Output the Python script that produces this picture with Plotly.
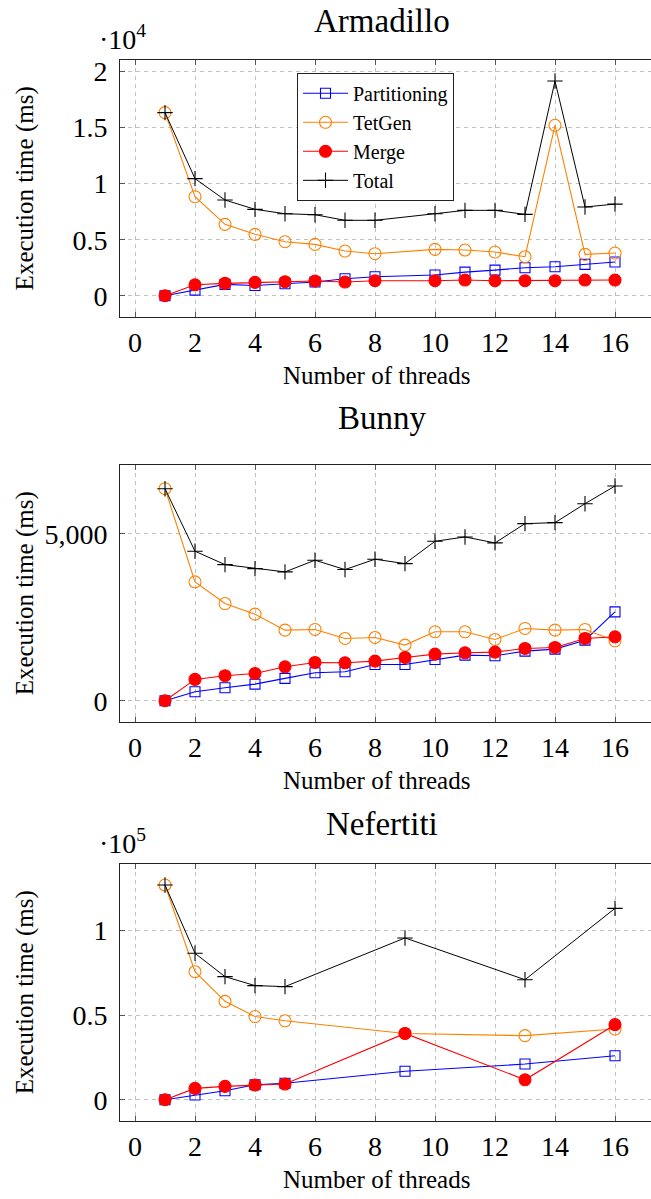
import plotly.graph_objects as go

# ---------------- data ----------------
arm_threads = [1, 2, 3, 4, 5, 6, 7, 8, 10, 11, 12, 13, 14, 15, 16]
arm_partitioning = [0, 500, 1010, 920, 1070, 1220, 1520, 1700, 1850, 2110, 2290, 2500, 2590, 2800, 3010]
arm_tetgen = [16340, 8840, 6370, 5480, 4820, 4580, 3990, 3750, 4140, 4080, 3900, 3480, 15210, 3690, 3810]
arm_merge = [0, 980, 1100, 1190, 1250, 1310, 1220, 1340, 1340, 1400, 1340, 1340, 1340, 1400, 1400]
arm_total = [16340, 10450, 8540, 7710, 7320, 7230, 6730, 6730, 7320, 7620, 7620, 7260, 19160, 7920, 8180]

bun_threads = [1, 2, 3, 4, 5, 6, 7, 8, 9, 10, 11, 12, 13, 14, 15, 16]
bun_partitioning = [0, 269, 389, 499, 669, 838, 868, 1088, 1088, 1238, 1367, 1347, 1487, 1547, 1816, 2665]
bun_tetgen = [6357, 3563, 2914, 2595, 2116, 2136, 1866, 1896, 1667, 2066, 2066, 1836, 2166, 2116, 2136, 1796]
bun_merge = [0, 639, 749, 818, 1018, 1148, 1138, 1188, 1297, 1397, 1437, 1457, 1567, 1597, 1866, 1916]
bun_total = [6357, 4481, 4081, 3961, 3862, 4212, 3932, 4242, 4111, 4780, 4910, 4731, 5309, 5339, 5907, 6437]

nef_threads = [1, 2, 3, 4, 5, 9, 13, 16]
nef_partitioning = [0, 2800, 5300, 8900, 9700, 16800, 21100, 26000]
nef_tetgen = [127000, 75700, 58200, 49200, 46700, 39200, 37900, 41800]
nef_merge = [0, 6700, 7900, 8700, 9300, 39200, 11800, 44400]
nef_total = [127000, 86600, 72800, 67500, 66900, 95700, 71000, 113200]

titles = ["Armadillo", "Bunny", "Nefertiti"]
x_ticks = [0, 2, 4, 6, 8, 10, 12, 14, 16]
arm_yticks = [0, 5000, 10000, 15000, 20000]
arm_yticktext = ["0", "0.5", "1", "1.5", "2"]
bun_yticks = [0, 5000]
bun_yticktext = ["0", "5,000"]
nef_yticks = [0, 50000, 100000]
nef_yticktext = ["0", "0.5", "1"]
series_names = ["Partitioning", "TetGen", "Merge", "Total"]

# ---------------- layout helpers ----------------
W, H = 651, 1199
FONT = "Liberation Serif"

def px(x):
    return x / W

def py(y):
    return 1 - y / H

panels = [
    dict(threads=arm_threads, series=[arm_partitioning, arm_tetgen, arm_merge, arm_total],
         yticks=arm_yticks, ytext=arm_yticktext, top=56.7, bottom=315, exp="·10<sup>4</sup>",
         title_y=18, exp_y=35),
    dict(threads=bun_threads, series=[bun_partitioning, bun_tetgen, bun_merge, bun_total],
         yticks=bun_yticks, ytext=bun_yticktext, top=462.7, bottom=721, exp=None,
         title_y=416, exp_y=None),
    dict(threads=nef_threads, series=[nef_partitioning, nef_tetgen, nef_merge, nef_total],
         yticks=nef_yticks, ytext=nef_yticktext, top=862.7, bottom=1121, exp="·10<sup>5</sup>",
         title_y=823, exp_y=841),
]

styles = [
    dict(color="#0000ff", symbol="square-open", size=10, lw=1.1),
    dict(color="#ff8000", symbol="circle-open", size=12, lw=1.1),
    dict(color="#ff0000", symbol="circle", size=12, lw=1.1),
    dict(color="#000000", symbol="cross-thin-open", size=11, lw=1.0),
]

fig = go.Figure()
annotations = []
layout = dict(
    width=W, height=H,
    margin=dict(l=0, r=0, t=0, b=0, pad=0),
    paper_bgcolor="white", plot_bgcolor="white",
    font=dict(family=FONT, color="black", size=28),
    showlegend=True,
    legend=dict(x=px(297), y=py(70), xanchor="left", yanchor="top",
                bordercolor="#222", borderwidth=1, bgcolor="white",
                font=dict(family=FONT, size=20, color="black"), itemwidth=45,
                tracegroupgap=0),
)

x_left, x_right_px = 120, 651
unit = 30.0
x0_px = x_left + 0.5 * unit
x_range = [-0.5, (x_right_px - x0_px) / unit]
TICKFONT = dict(family=FONT, size=28, color="black")

for i, p in enumerate(panels):
    k = "" if i == 0 else str(i + 1)
    xa, ya = "x" + k, "y" + k
    allvals = [v for s in p["series"] for v in s]
    lo, hi = min(allvals), max(allvals)
    pad = 0.1 * (hi - lo)
    for j, (name, s) in enumerate(zip(series_names, p["series"])):
        st = styles[j]
        fig.add_trace(go.Scatter(
            x=p["threads"], y=s, name=name, mode="lines+markers",
            xaxis=xa, yaxis=ya, showlegend=(i == 0),
            line=dict(color=st["color"], width=st["lw"]),
            marker=dict(symbol=st["symbol"], size=st["size"], color=st["color"],
                        line=dict(color=st["color"], width=1.1)),
        ))
    layout["xaxis" + k] = dict(
        domain=[px(x_left), 1], range=x_range, anchor=ya,
        tickvals=x_ticks, ticktext=[str(t) for t in x_ticks],
        ticks="inside", ticklen=5, tickcolor="#555",
        showline=True, linecolor="#222", linewidth=1, mirror="ticks",
        showgrid=True, gridcolor="#c0c0c0", gridwidth=1, griddash="4px,4px",
        zeroline=False, tickfont=TICKFONT, fixedrange=True,
    )
    layout["yaxis" + k] = dict(
        domain=[py(p["bottom"]), py(p["top"])], range=[lo - pad, hi + pad], anchor=xa,
        tickvals=p["yticks"], ticktext=p["ytext"], ticks="inside", ticklen=5, tickcolor="#555",
        showline=True, linecolor="#222", linewidth=1, mirror=False,
        showgrid=True, gridcolor="#c0c0c0", gridwidth=1, griddash="4px,4px",
        zeroline=False, tickfont=TICKFONT, fixedrange=True, ticklabelstandoff=6,
    )
    cx = (x_left + x0_px + 17.0 * unit) / 2  # centre of the full axis box
    annotations.append(dict(text=titles[i], x=px(cx), y=py(p["title_y"]), xref="paper", yref="paper",
                            xanchor="center", yanchor="middle", showarrow=False,
                            font=dict(family=FONT, size=33, color="black")))
    annotations.append(dict(text="Number of threads", x=px(376), y=py(p["bottom"] + 58),
                            xref="paper", yref="paper", xanchor="center", yanchor="middle",
                            showarrow=False, font=dict(family=FONT, size=25, color="black")))
    annotations.append(dict(text="Execution time (ms)", x=px(25), y=py((p["top"] + p["bottom"]) / 2),
                            xref="paper", yref="paper", xanchor="center", yanchor="middle",
                            textangle=-90, showarrow=False, font=dict(family=FONT, size=25, color="black")))
    if p["exp"]:
        annotations.append(dict(text=p["exp"], x=px(97), y=py(p["exp_y"]), xref="paper", yref="paper",
                                xanchor="left", yanchor="middle", showarrow=False,
                                font=dict(family=FONT, size=28, color="black")))

layout["annotations"] = annotations
fig.update_layout(**layout)
fig.write_html("out.html", config={"displayModeBar": False},
               post_script="document.body.style.margin='0';document.body.style.overflow='hidden';")
